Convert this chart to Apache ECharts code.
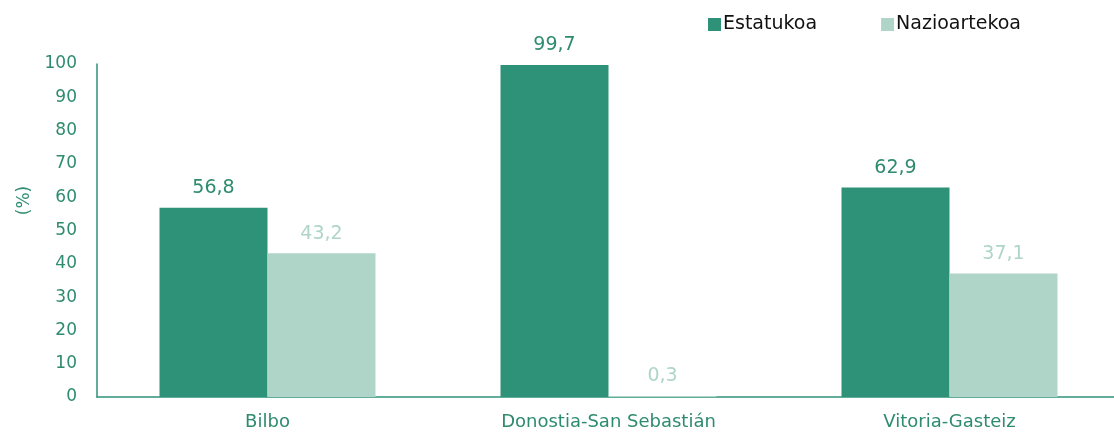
<!DOCTYPE html>
<html>
<head>
<meta charset="utf-8">
<script src="https://cdn.jsdelivr.net/npm/echarts@6/dist/echarts.min.js"></script>
<style>
  html, body { margin: 0; padding: 0; background: #ffffff; overflow: hidden; }
  #frame { width: 1114px; height: 433px; overflow: hidden; }
  #chart { width: 1126px; height: 433px; }
</style>
</head>
<body>
<div id="frame"><div id="chart"></div></div>
<script>
// Share of visitors by origin, per capital city
const categories = ['Bilbo', 'Donostia-San Sebastián', 'Vitoria-Gasteiz'];
const estatukoa = [56.8, 99.7, 62.9];
const nazioartekoa = [43.2, 0.3, 37.1];
const yTicks = { min: 0, max: 100, interval: 10 };

const darkGreen = '#2e9279';
const lightGreen = '#afd5c8';
const axisText = '#2e8b6f';
const fontFamily = '"DejaVu Sans", Verdana, sans-serif';

const fmt = v => String(v.toFixed(1)).replace('.', ',');

const chart = echarts.init(document.getElementById('chart'));
chart.setOption({
  animation: false,
  textStyle: { fontFamily: fontFamily },
  legend: {
    top: 10,
    left: 703,
    itemWidth: 13,
    itemHeight: 13,
    itemGap: 64,
    icon: 'rect',
    textStyle: { color: '#111111', fontSize: 19, fontFamily: fontFamily, padding: [0, 0, 0, -3] },
    data: ['Estatukoa', 'Nazioartekoa']
  },
  grid: { left: 97, right: 6, top: 64, bottom: 36, containLabel: false },
  xAxis: {
    type: 'category',
    data: categories,
    axisLine: { show: true, lineStyle: { color: '#2e9279', width: 1.5 } },
    axisTick: { show: false },
    axisLabel: { color: axisText, fontSize: 18, margin: 16 }
  },
  yAxis: {
    type: 'value',
    min: yTicks.min,
    max: yTicks.max,
    interval: yTicks.interval,
    name: '(%)',
    nameLocation: 'middle',
    nameGap: 64,
    nameMoveOverlap: false,
    nameTextStyle: { color: axisText, fontSize: 17, padding: [0, 0, 0, 60] },
    axisLine: { show: true, lineStyle: { color: '#2e9279', width: 1.5 } },
    axisTick: { show: false },
    splitLine: { show: false },
    axisLabel: { color: axisText, fontSize: 17, margin: 20 }
  },
  series: [
    {
      name: 'Estatukoa',
      type: 'bar',
      data: estatukoa,
      barWidth: 108,
      barGap: '0%',
      itemStyle: { color: darkGreen },
      label: {
        show: true,
        position: 'top',
        distance: 10,
        color: axisText,
        fontSize: 19,
        formatter: p => fmt(p.value)
      }
    },
    {
      name: 'Nazioartekoa',
      type: 'bar',
      data: nazioartekoa,
      barWidth: 108,
      itemStyle: { color: lightGreen },
      label: {
        show: true,
        position: 'top',
        distance: 10,
        color: lightGreen,
        fontSize: 19,
        formatter: p => fmt(p.value)
      }
    }
  ]
});
</script>
</body>
</html>
